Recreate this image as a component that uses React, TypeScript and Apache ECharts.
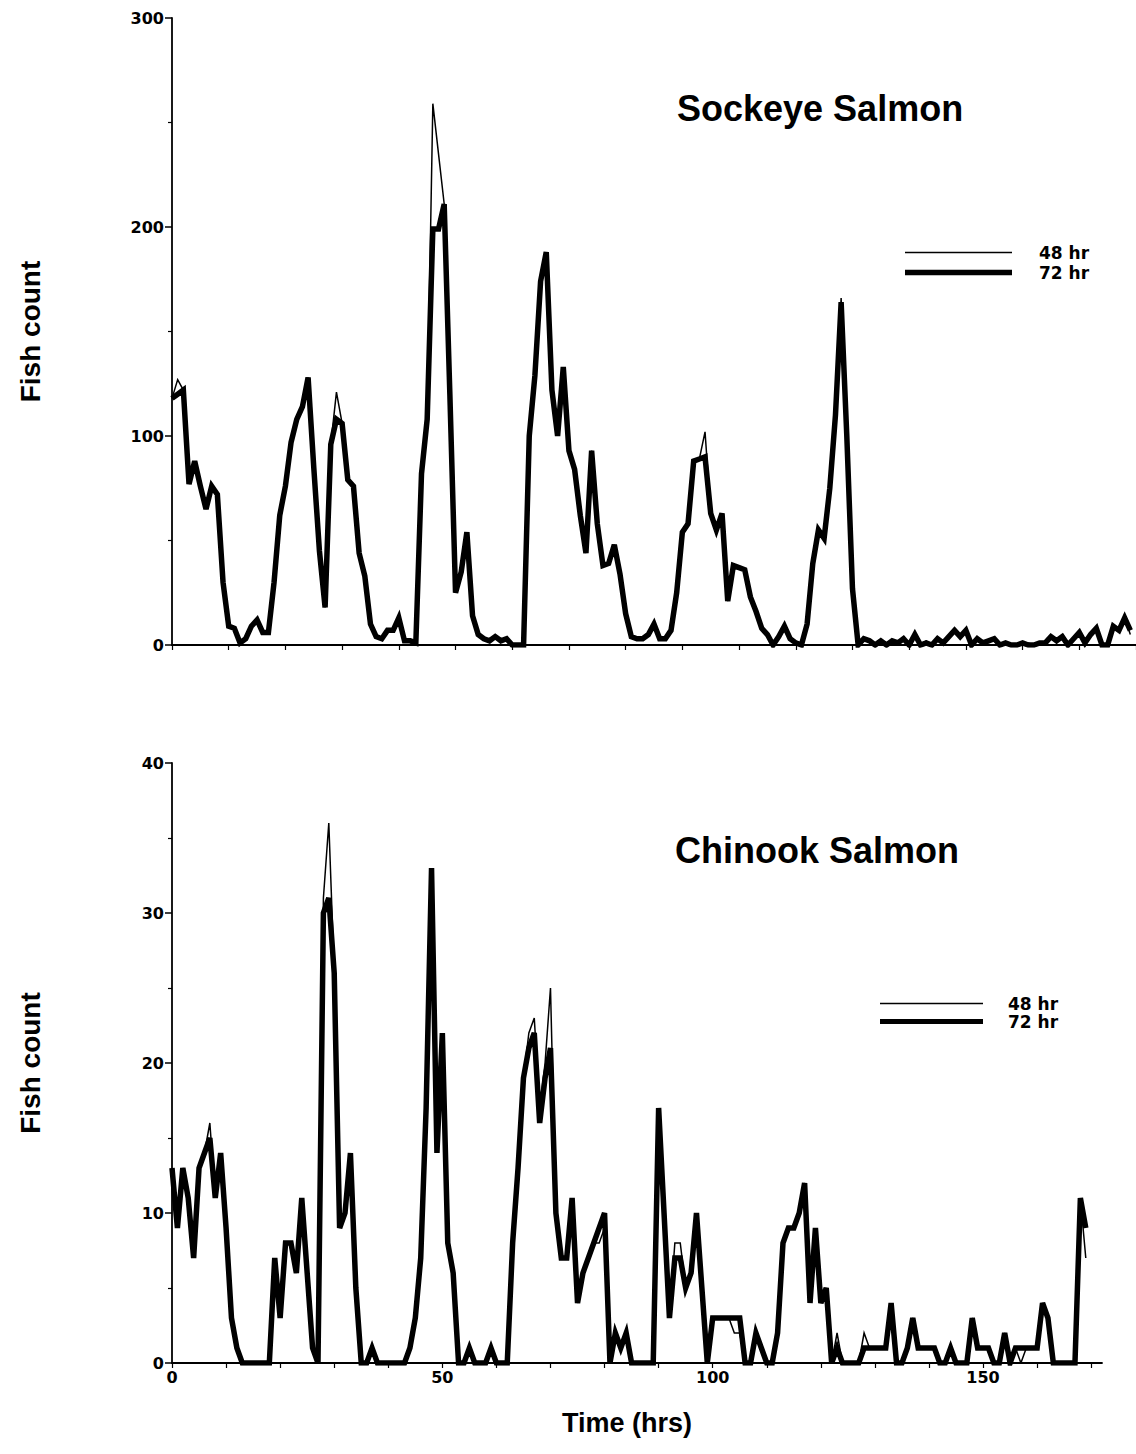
import React, { useEffect, useRef } from "react";
import * as echarts from "echarts";

// Hour index for every reading (0 … 169)
const HOURS_COUNT = 170;
const hours: number[] = Array.from({ length: HOURS_COUNT }, (_, i) => i);

// Sockeye salmon counts, 72 hr series (thick line)
const sockeye72: number[] = [
  118, 120, 122, 77, 88, 76, 65, 76, 72, 30,
  9, 8, 1, 3, 9, 12, 6, 6, 30, 62,
  76, 97, 108, 114, 128, 85, 45, 18, 96, 108,
  106, 79, 76, 44, 33, 10, 4, 3, 7, 7,
  13, 2, 2, 1, 82, 108, 199, 199, 211, 120,
  25, 35, 54, 14, 5, 3, 2, 4, 2, 3,
  0, 0, 0, 100, 129, 174, 188, 122, 100, 133,
  93, 84, 62, 44, 93, 58, 38, 39, 48, 34,
  15, 4, 3, 3, 5, 10, 3, 3, 7, 25,
  54, 58, 88, 89, 90, 63, 55, 63, 21, 38,
  37, 36, 23, 16, 8, 5, 0, 4, 9, 3,
  1, 0, 10, 39, 55, 51, 75, 110, 164, 100,
  27, 0, 3, 2, 0, 2, 0, 2, 1, 3,
  0, 5, 0, 1, 0, 3, 1, 4, 7, 4,
  7, 0, 3, 1, 2, 3, 0, 1, 0, 0,
  1, 0, 0, 1, 1, 4, 2, 4, 0, 3,
  6, 1, 5, 8, 0, 0, 9, 7, 13, 7,
];

// Sockeye salmon counts, 48 hr series (thin line)
const sockeye48: number[] = [
  118, 127, 122, 77, 88, 76, 65, 77, 72, 30,
  9, 8, 1, 3, 9, 12, 6, 6, 30, 62,
  76, 97, 108, 114, 128, 85, 45, 18, 96, 121,
  106, 79, 76, 44, 33, 10, 4, 3, 7, 7,
  13, 2, 2, 1, 82, 108, 259, 235, 211, 120,
  25, 35, 54, 14, 5, 3, 2, 4, 2, 3,
  0, 0, 0, 100, 129, 174, 188, 122, 100, 133,
  93, 84, 62, 44, 93, 58, 38, 39, 48, 34,
  15, 4, 3, 3, 5, 10, 3, 3, 7, 25,
  54, 58, 88, 89, 102, 63, 55, 63, 21, 38,
  37, 36, 23, 16, 8, 5, 0, 4, 9, 3,
  1, 0, 10, 39, 55, 51, 75, 110, 166, 100,
  27, 0, 3, 2, 0, 2, 0, 2, 1, 3,
  0, 5, 0, 2, 0, 3, 1, 4, 7, 4,
  7, 0, 3, 1, 2, 3, 0, 1, 0, 0,
  1, 1, 0, 1, 1, 4, 2, 4, 0, 3,
  6, 1, 5, 8, 0, 0, 9, 7, 13, 5,
];

// Chinook salmon counts, 72 hr series (thick line)
const chinook72: number[] = [
  13, 9, 13, 11, 7, 13, 14, 15, 11, 14,
  9, 3, 1, 0, 0, 0, 0, 0, 0, 7,
  3, 8, 8, 6, 11, 6, 1, 0, 30, 31,
  26, 9, 10, 14, 5, 0, 0, 1, 0, 0,
  0, 0, 0, 0, 1, 3, 7, 17, 33, 14,
  22, 8, 6, 0, 0, 1, 0, 0, 0, 1,
  0, 0, 0, 8, 13, 19, 21, 22, 16, 19,
  21, 10, 7, 7, 11, 4, 6, 7, 8, 9,
  10, 0, 2, 1, 2, 0, 0, 0, 0, 0,
  17, 10, 3, 7, 7, 5, 6, 10, 5, 0,
  3, 3, 3, 3, 3, 3, 0, 0, 2, 1,
  0, 0, 2, 8, 9, 9, 10, 12, 4, 9,
  4, 5, 0, 1, 0, 0, 0, 0, 1, 1,
  1, 1, 1, 4, 0, 0, 1, 3, 1, 1,
  1, 1, 0, 0, 1, 0, 0, 0, 3, 1,
  1, 1, 0, 0, 2, 0, 1, 1, 1, 1,
  1, 4, 3, 0, 0, 0, 0, 0, 11, 9,
];

// Chinook salmon counts, 48 hr series (thin line)
const chinook48: number[] = [
  13, 9, 13, 11, 7, 13, 14, 16, 11, 14,
  9, 3, 1, 0, 0, 0, 0, 0, 0, 7,
  3, 8, 8, 6, 11, 6, 1, 0, 31, 36,
  26, 9, 10, 14, 5, 0, 0, 1, 0, 0,
  0, 0, 0, 0, 1, 3, 7, 17, 33, 14,
  22, 8, 6, 0, 0, 1, 0, 0, 0, 1,
  0, 0, 0, 8, 13, 19, 22, 23, 17, 20,
  25, 10, 7, 7, 11, 4, 6, 7, 8, 8,
  9, 0, 2, 1, 2, 0, 0, 0, 0, 0,
  17, 10, 3, 8, 8, 5, 6, 10, 5, 0,
  3, 3, 3, 3, 2, 2, 0, 0, 2, 1,
  0, 0, 2, 8, 9, 9, 10, 12, 4, 9,
  4, 5, 0, 2, 0, 0, 0, 0, 2, 1,
  1, 1, 1, 4, 0, 0, 1, 3, 1, 1,
  1, 1, 0, 0, 1, 0, 0, 0, 3, 1,
  1, 1, 0, 0, 2, 0, 1, 0, 1, 1,
  1, 4, 3, 0, 0, 0, 0, 0, 11, 7,
];

const legendNames: string[] = ["48 hr", "72 hr"];
const bottomXLabels: number[] = [0, 50, 100, 150];

const BOLD_TICK = {
  fontFamily: "DejaVu Sans",
  fontWeight: "bold" as const,
  fontSize: 16,
  color: "#000",
};
const TITLE_FONT = {
  fontFamily: "Liberation Sans",
  fontWeight: "bold" as const,
  color: "#000",
};

function pairs(values: number[]) {
  return values.map((v, i) => [hours[i], v]);
}

// legend swatches: a thin and a thick horizontal bar
const legendItems = [
  { name: legendNames[0], icon: "path://M0 0H300V4H0Z" },
  { name: legendNames[1], icon: "path://M0 0H300V15H0Z" },
];

export default function App() {
  const ref = useRef<HTMLDivElement>(null);

  useEffect(() => {
    if (!ref.current) return;
    const chart = echarts.init(ref.current, undefined, { renderer: "svg" });

    const axisLine = { show: true, lineStyle: { color: "#000", width: 1.8 } };

    const lineSeries = (
      name: string,
      values: number[],
      idx: number,
      width: number,
      z: number
    ) => ({
      type: "line",
      name,
      xAxisIndex: idx,
      yAxisIndex: idx,
      data: pairs(values),
      symbol: "none",
      showSymbol: false,
      z,
      lineStyle: { color: "#000", width, join: "miter", cap: "butt" },
      itemStyle: { color: "#000" },
      emphasis: { disabled: true },
    });

    const legendText = (pad: number) => ({
      ...BOLD_TICK,
      fontSize: 17,
      lineHeight: 17,
      padding: [0, 0, 0, pad],
    });

    const legendBase = {
      data: legendItems,
      orient: "vertical",
      itemHeight: 14,
      selectedMode: false,
      symbolKeepAspect: true,
      itemStyle: { color: "#000", borderWidth: 0 },
    };

    const option: any = {
      animation: false,
      backgroundColor: "#ffffff",
      title: [
        {
          text: "Sockeye Salmon",
          left: 672,
          top: 85,
          textStyle: { ...TITLE_FONT, fontSize: 36 },
        },
        {
          text: "Chinook Salmon",
          left: 670,
          top: 827,
          textStyle: { ...TITLE_FONT, fontSize: 36 },
        },
      ],
      legend: [
        {
          ...legendBase,
          left: 900,
          top: 239,
          itemWidth: 107,
          itemGap: 3,
          textStyle: legendText(22),
        },
        {
          ...legendBase,
          left: 875,
          top: 990,
          itemWidth: 103,
          itemGap: 1,
          textStyle: legendText(20),
        },
      ],
      grid: [
        { left: 172, top: 18, width: 964, height: 627, containLabel: false },
        { left: 172, top: 763, width: 930, height: 600, containLabel: false },
      ],
      xAxis: [
        {
          type: "value",
          gridIndex: 0,
          min: 0,
          max: 170,
          interval: 10,
          axisLine,
          axisTick: { show: true, length: 5, lineStyle: { color: "#000", width: 1.2 } },
          axisLabel: { show: false },
          splitLine: { show: false },
        },
        {
          type: "value",
          gridIndex: 1,
          min: 0,
          max: 172,
          interval: 10,
          axisLine,
          axisTick: { show: true, length: 5, lineStyle: { color: "#000", width: 1.2 } },
          axisLabel: {
            ...BOLD_TICK,
            margin: 6,
            showMaxLabel: false,
            formatter: (v: number) => (bottomXLabels.includes(v) ? String(v) : ""),
          },
          splitLine: { show: false },
          name: "Time (hrs)",
          nameLocation: "middle",
          nameGap: 46,
          nameTextStyle: { ...TITLE_FONT, fontSize: 27, padding: [0, 20, 0, 0] },
        },
      ],
      yAxis: [
        {
          type: "value",
          gridIndex: 0,
          min: 0,
          max: 300,
          interval: 100,
          axisLine,
          axisTick: { show: true, length: 7, lineStyle: { color: "#000", width: 1.5 } },
          minorTick: { show: true, splitNumber: 2, length: 4, lineStyle: { color: "#000", width: 1.2 } },
          axisLabel: { ...BOLD_TICK, margin: 8 },
          splitLine: { show: false },
          minorSplitLine: { show: false },
          name: "Fish count",
          nameLocation: "middle",
          nameRotate: 90,
          nameGap: 128,
          nameTextStyle: { ...TITLE_FONT, fontSize: 28 },
        },
        {
          type: "value",
          gridIndex: 1,
          min: 0,
          max: 40,
          interval: 10,
          axisLine,
          axisTick: { show: true, length: 7, lineStyle: { color: "#000", width: 1.5 } },
          minorTick: { show: true, splitNumber: 2, length: 4, lineStyle: { color: "#000", width: 1.2 } },
          axisLabel: { ...BOLD_TICK, margin: 8 },
          splitLine: { show: false },
          minorSplitLine: { show: false },
          name: "Fish count",
          nameLocation: "middle",
          nameRotate: 90,
          nameGap: 128,
          nameTextStyle: { ...TITLE_FONT, fontSize: 28 },
        },
      ],
      series: [
        lineSeries("72 hr", sockeye72, 0, 5.5, 2),
        lineSeries("48 hr", sockeye48, 0, 1.5, 3),
        lineSeries("72 hr", chinook72, 1, 5.5, 2),
        lineSeries("48 hr", chinook48, 1, 1.5, 3),
      ],
    };

    chart.setOption(option);
    return () => chart.dispose();
  }, []);

  return (
    <div
      ref={ref}
      style={{
        position: "absolute",
        left: 0,
        top: 0,
        width: 1136,
        height: 1454,
        background: "#fff",
      }}
    />
  );
}
